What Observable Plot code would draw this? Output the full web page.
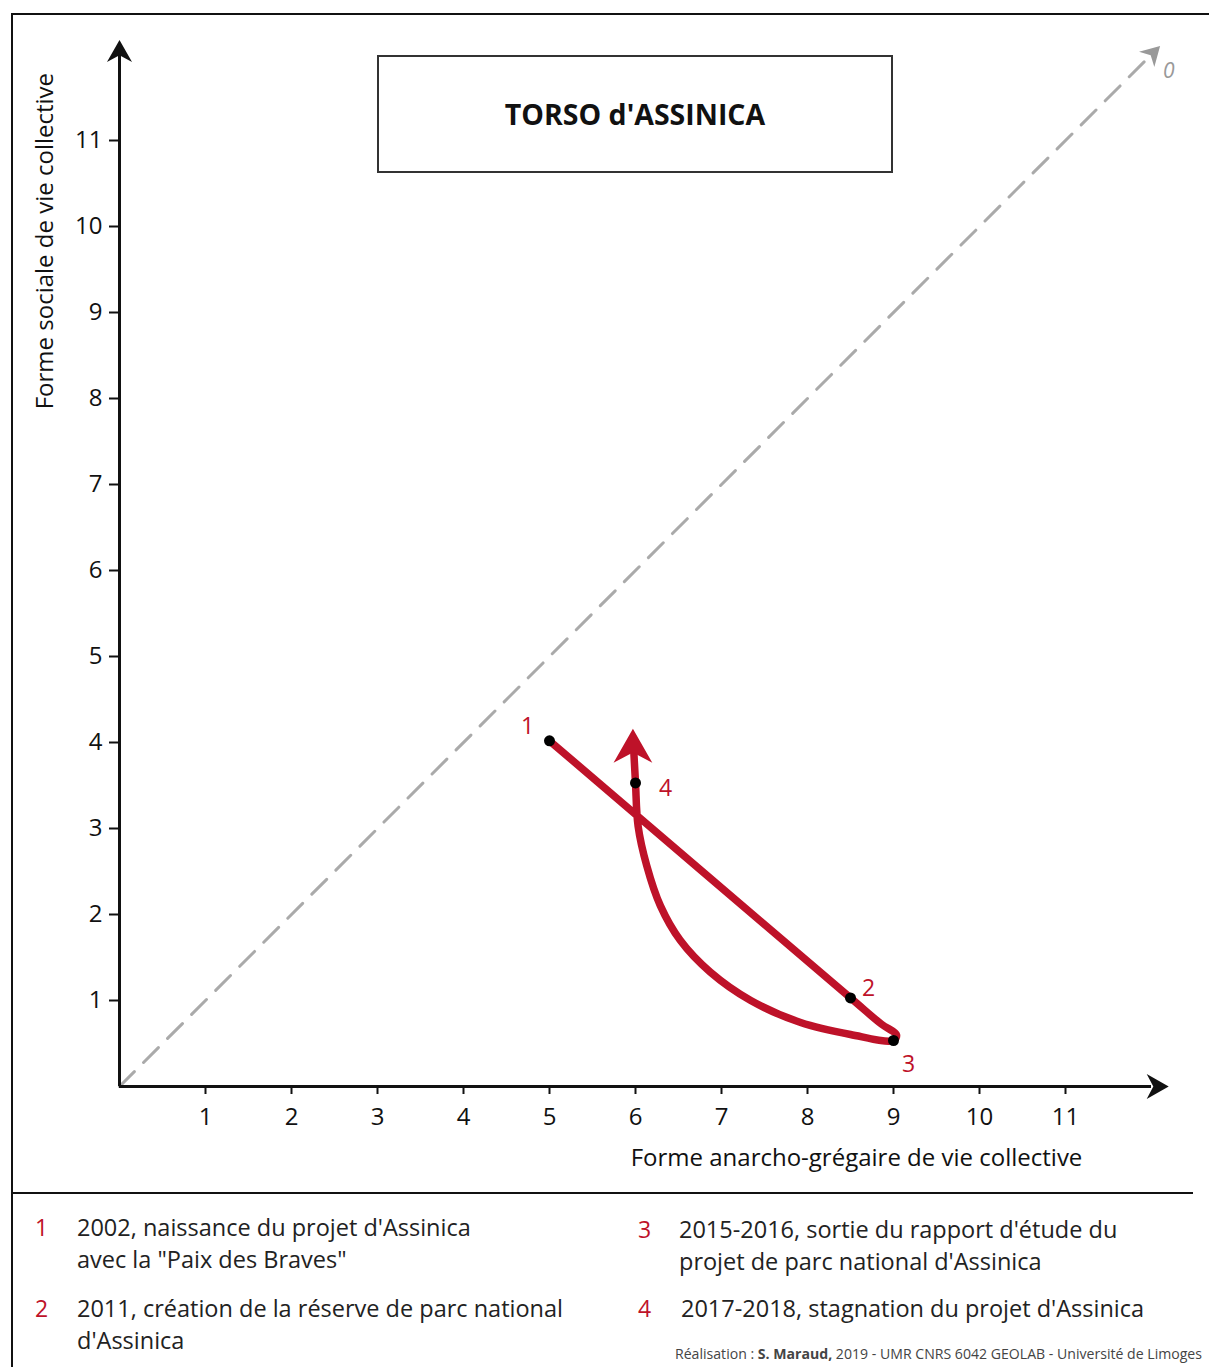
<!DOCTYPE html>
<html><head><meta charset="utf-8">
<script src="https://cdn.jsdelivr.net/npm/d3@7"></script>
<script src="https://cdn.jsdelivr.net/npm/@observablehq/plot@0.6"></script>
<style>
body{margin:0;background:#fff;font-family:"Open Sans",sans-serif;}
#wrap{position:relative;width:1209px;height:1367px;overflow:hidden;background:#fff;}
#chart{position:absolute;left:0;top:0;}
.hl{position:absolute;background:#111;}
#title{position:absolute;left:377px;top:55px;width:516px;height:118px;box-sizing:border-box;border:2px solid #333;display:flex;align-items:center;justify-content:center;font-weight:700;font-size:28.5px;color:#111;background:#fff;}
.leg{position:absolute;font-size:23.5px;line-height:32px;color:#222;white-space:nowrap;}
.num{position:absolute;font-size:23px;line-height:32px;color:#be1229;}
#credit{position:absolute;left:675px;top:1344px;font-size:14.1px;color:#444;white-space:nowrap;}
</style></head>
<body>
<div id="wrap">
  <div id="chart"></div>
  <div class="hl" style="left:11px;top:13px;width:1198px;height:1.5px"></div>
  <div class="hl" style="left:11px;top:13px;width:1.5px;height:1354px"></div>
  <div class="hl" style="left:11px;top:1192px;width:1182px;height:1.5px"></div>
  <div id="title">TORSO d'ASSINICA</div>
  <div id="legend"></div>
  <div id="credit">Réalisation : <b>S. Maraud,</b> 2019 - UMR CNRS 6042 GEOLAB - Université de Limoges</div>
</div>
<script>
// ---- data ----
const xTicks = [1,2,3,4,5,6,7,8,9,10,11];
const yTicks = [1,2,3,4,5,6,7,8,9,10,11];
const xLabel = "Forme anarcho-grégaire de vie collective";
const yLabel = "Forme sociale de vie collective";
// trajectory (x, y)
const trajX = [5.0, 8.5, 8.86, 9.035, 9.0, 8.5, 7.92, 7.34, 6.87, 6.52, 6.29, 6.13, 6.03, 6.0, 5.98];
const trajY = [4.02, 1.03, 0.725, 0.6, 0.535, 0.605, 0.744, 1.0, 1.33, 1.70, 2.10, 2.57, 3.03, 3.53, 3.9];
const arrowTip = {x: 5.97, y: 4.16};
const eventIds = ["1", "2", "3", "4"];
const eventX = [5.0, 8.5, 9.0, 6.0];
const eventY = [4.02, 1.03, 0.535, 3.53];
const eventDx = [-22, 18, 15, 30];
const eventDy = [-14, -9, 24, 6];
const diagEnd = 12.0, diagTip = 12.1;
const axisEndX = 12.0, axisEndY = 12.0;
const axisTipX = 12.2, axisTipY = 12.17;
const legendTexts = [
  ["2002, naissance du projet d'Assinica", "avec la \"Paix des Braves\""],
  ["2011, création de la réserve de parc national", "d'Assinica"],
  ["2015-2016, sortie du rapport d'étude du", "projet de parc national d'Assinica"],
  ["2017-2018, stagnation du projet d'Assinica"]
];

const RED = "#be1229";
const traj = trajX.map((x, i) => ({x, y: trajY[i]}));
const events = eventIds.map((id, i) => ({id, x: eventX[i], y: eventY[i], dx: eventDx[i], dy: eventDy[i]}));

// barbed arrowhead, tip at origin, pointing up; r = length
const barb = {draw(ctx, size) {
  const r = Math.sqrt(size / Math.PI);
  ctx.moveTo(0, 0);
  ctx.lineTo(-0.57 * r, r);
  ctx.lineTo(0, 0.7 * r);
  ctx.lineTo(0.57 * r, r);
  ctx.closePath();
}};

const plot = Plot.plot({
  width: 1209, height: 1192,
  marginLeft: 119, marginRight: 58, marginTop: 54, marginBottom: 106,
  x: {domain: [0, 12]},
  y: {domain: [0, 12]},
  style: {fontFamily: "'Open Sans', sans-serif", fontSize: "24px", color: "#111", background: "transparent"},
  marks: [
    // diagonal
    Plot.line([{x: 0, y: 0}, {x: diagEnd, y: diagEnd}], {x: "x", y: "y", stroke: "#aaa", strokeWidth: 3, strokeDasharray: "21,13"}),
    Plot.dot([{x: diagTip, y: diagTip}], {x: "x", y: "y", symbol: barb, r: 19, fill: "#999", stroke: null, rotate: 45}),
    Plot.text(["0"], {x: diagTip, y: diagTip, text: d => d, dx: 3, dy: 25, fill: "#999", fontSize: 21, textAnchor: "start", fontStyle: "italic"}),
    // axes lines
    Plot.ruleY([0], {x1: 0, x2: axisEndX, stroke: "#111", strokeWidth: 3}),
    Plot.ruleX([0], {y1: 0, y2: axisEndY, stroke: "#111", strokeWidth: 3}),
    Plot.dot([{x: axisTipX, y: 0}], {x: "x", y: "y", symbol: barb, r: 22, fill: "#111", stroke: null, rotate: 90}),
    Plot.dot([{x: 0, y: axisTipY}], {x: "x", y: "y", symbol: barb, r: 22, fill: "#111", stroke: null, rotate: 0}),
    Plot.axisX({ticks: xTicks, tickSize: 8, tickPadding: 13, strokeWidth: 2, label: null, tickFormat: d => d}),
    Plot.axisY({ticks: yTicks, tickSize: 10, tickPadding: 7, strokeWidth: 2, label: null, tickFormat: d => d}),
    Plot.text([xLabel], {x: 8.57, y: -0.84, text: d => d, fontSize: 24, fill: "#111"}),
    Plot.text([yLabel], {x: -0.86, y: 9.83, text: d => d, rotate: -90, fontSize: 24, fill: "#111"}),
    // trajectory
    Plot.line(traj, {x: "x", y: "y", stroke: RED, strokeWidth: 7.5, curve: "catmull-rom", strokeLinejoin: "round", strokeLinecap: "round"}),
    Plot.dot([arrowTip], {x: "x", y: "y", symbol: barb, r: 34, fill: RED, stroke: null}),
    Plot.dot(events, {x: "x", y: "y", r: 5.5, fill: "#000", stroke: null}),
    Plot.text(events, {x: "x", y: "y", text: "id", fill: RED, fontSize: 23})
  ]
});
document.getElementById("chart").appendChild(plot);

// place event labels with their offsets
const evTexts = plot.querySelectorAll("g[aria-label='text']");
const lastText = evTexts[evTexts.length - 1];
lastText.querySelectorAll("text").forEach((t, i) => {
  t.setAttribute("transform", (t.getAttribute("transform") || "") + ` translate(${events[i].dx},${events[i].dy})`);
});

// legend
const legend = document.getElementById("legend");
const pos = [[35, 77, 1211], [35, 77, 1292], [638, 679, 1213], [638, 681, 1292]];
legendTexts.forEach((lines, i) => {
  const [nx, tx, ty] = pos[i];
  const n = document.createElement("div");
  n.className = "num"; n.style.left = nx + "px"; n.style.top = ty + "px"; n.textContent = eventIds[i];
  legend.appendChild(n);
  const t = document.createElement("div");
  t.className = "leg"; t.style.left = tx + "px"; t.style.top = ty + "px";
  t.innerHTML = lines.map(l => l.replace(/&/g, "&amp;")).join("<br>");
  legend.appendChild(t);
});
</script>
</body></html>
